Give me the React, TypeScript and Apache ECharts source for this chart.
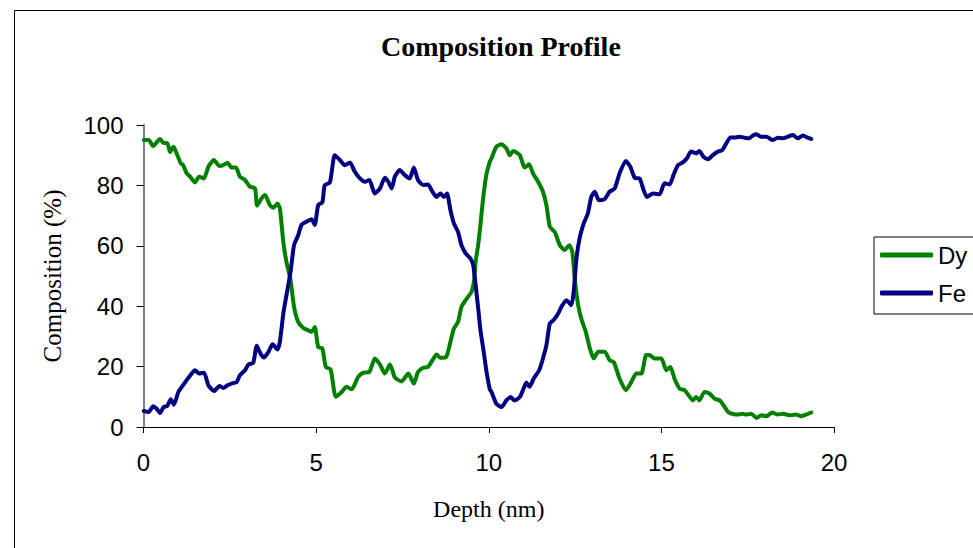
import React, { useEffect, useRef } from "react";
import * as echarts from "echarts";

const titleText = "Composition Profile";
const xTicks = [0, 5, 10, 15, 20];
const yTicks = [0, 20, 40, 60, 80, 100];

const dyDepth = [
  0.01, 0.15, 0.28, 0.48, 0.58, 0.69, 0.77, 0.87, 0.96, 1.08, 1.15, 1.25, 1.35, 1.49, 1.61, 1.75, 1.88, 2.04, 2.2, 2.31,
  2.43, 2.55, 2.68, 2.79, 2.94, 3.08, 3.23, 3.29, 3.42, 3.52, 3.66, 3.76, 3.88, 3.95, 4.05, 4.14, 4.26, 4.36, 4.48, 4.63,
  4.77, 4.87, 4.96, 5.06, 5.18, 5.28, 5.42, 5.57, 5.74, 5.88, 6.03, 6.22, 6.37, 6.54, 6.7, 6.85, 6.99, 7.14, 7.28, 7.47,
  7.67, 7.83, 7.95, 8.1, 8.24, 8.37, 8.49, 8.6, 8.77, 8.89, 8.99, 9.11, 9.21, 9.33, 9.5, 9.57, 9.62, 9.69, 9.76, 9.84,
  9.93, 10.03, 10.08, 10.22, 10.37, 10.51, 10.61, 10.71, 10.9, 11.04, 11.17, 11.28, 11.43, 11.57, 11.67, 11.77, 11.91, 12.06, 12.2, 12.33,
  12.42, 12.49, 12.59, 12.68, 12.81, 12.93, 13.04, 13.17, 13.36, 13.5, 13.62, 13.79, 13.97, 14.13, 14.27, 14.42, 14.56, 14.66, 14.8, 15.0,
  15.14, 15.26, 15.38, 15.53, 15.67, 15.82, 15.91, 16.01, 16.1, 16.25, 16.4, 16.54, 16.69, 16.8, 16.93, 17.07, 17.22, 17.34, 17.46, 17.6,
  17.76, 17.89, 18.04, 18.21, 18.37, 18.52, 18.71, 18.9, 19.05, 19.19, 19.34,
];
const dyComp = [
  95, 95, 93, 95.4, 94, 94, 91, 92.8, 90.6, 87.3, 86.7, 84, 82.9, 81, 82.9, 82.3, 86.2, 88.4, 86.4, 86.7,
  87.5, 85.9, 85.9, 82.9, 81.8, 79.6, 79, 73.3, 75.7, 76.8, 73.5, 72.6, 74, 72.4, 61.3, 54.7, 48.6, 39.8, 34.8, 32.8,
  32, 31.5, 33.1, 26.5, 26, 19.9, 19.1, 10, 11.6, 13.3, 12.5, 16.6, 18, 18.2, 22.7, 20.7, 17.7, 20.7, 16.4, 15.1,
  17.7, 14.4, 18.2, 19.6, 19.9, 22.1, 24, 22.9, 23.2, 28.2, 32.6, 34.8, 39.8, 42, 44.8, 48.1, 54.7, 60, 67, 76,
  83.5, 87.8, 89, 92.8, 93.6, 92.3, 90, 91.4, 90, 85.9, 87, 84, 81.2, 77.9, 73.5, 66.3, 64.6, 60.2, 58.6, 60.2,
  58, 49.2, 40.3, 35.9, 31.5, 26, 22.7, 24.9, 24.9, 22.1, 21.5, 16, 12.2, 14.9, 17.7, 17.7, 23.8, 23.8, 22.7, 22.7,
  18.8, 19.9, 16, 12.7, 12.2, 10, 8.8, 9.9, 8.8, 11.6, 11, 9.4, 8.8, 7.2, 5, 4.3, 4.1, 4.4, 4.1, 4.4,
  3, 3.9, 3.6, 4.8, 4.1, 4.4, 3.9, 4.1, 3.6, 4.1, 4.8,
];

const feDepth = [
  0.01, 0.15, 0.28, 0.38, 0.48, 0.58, 0.69, 0.79, 0.88, 1.01, 1.13, 1.25, 1.37, 1.49, 1.61, 1.75, 1.88, 2.04, 2.2, 2.31,
  2.43, 2.55, 2.7, 2.79, 2.94, 3.04, 3.18, 3.28, 3.39, 3.49, 3.62, 3.74, 3.88, 3.95, 4.05, 4.14, 4.26, 4.36, 4.48, 4.58,
  4.72, 4.87, 4.96, 5.06, 5.18, 5.25, 5.4, 5.54, 5.69, 5.83, 5.98, 6.12, 6.27, 6.41, 6.54, 6.7, 6.85, 6.99, 7.09, 7.19,
  7.28, 7.42, 7.57, 7.71, 7.83, 7.95, 8.1, 8.24, 8.37, 8.49, 8.6, 8.7, 8.79, 8.89, 8.99, 9.11, 9.21, 9.33, 9.47, 9.55,
  9.62, 9.69, 9.76, 9.84, 9.93, 10.03, 10.08, 10.22, 10.37, 10.51, 10.63, 10.75, 10.9, 10.99, 11.09, 11.18, 11.3, 11.46, 11.57, 11.67,
  11.77, 11.88, 12.01, 12.13, 12.25, 12.39, 12.46, 12.54, 12.63, 12.75, 12.87, 12.97, 13.07, 13.19, 13.36, 13.5, 13.65, 13.79, 13.97, 14.1,
  14.23, 14.37, 14.47, 14.58, 14.76, 14.95, 15.09, 15.24, 15.35, 15.48, 15.62, 15.74, 15.86, 16.01, 16.1, 16.22, 16.35, 16.49, 16.64, 16.76,
  16.88, 17.0, 17.15, 17.28, 17.41, 17.55, 17.65, 17.76, 17.89, 18.04, 18.23, 18.37, 18.52, 18.66, 18.81, 18.95, 19.1, 19.24, 19.34,
];
const feComp = [
  5.3, 5, 6.9, 6.1, 4.6, 6.6, 7, 9.2, 7.4, 11.6, 13.6, 15.5, 17.3, 18.8, 17.7, 18, 13.8, 11.9, 13.6, 12.9,
  13.8, 14.4, 14.9, 17.1, 18.8, 20.7, 21.3, 26.9, 24.3, 23, 24.9, 27.4, 25.7, 28.2, 37.6, 43.6, 51.4, 60.2, 63.5, 67,
  68, 68.8, 66.9, 73.5, 74.4, 80.1, 81, 90, 88.4, 86.7, 87.6, 84.5, 82.3, 81.2, 81.8, 77.3, 79, 82.5, 81.2, 79,
  82.9, 85.1, 83.4, 82.3, 85.9, 81.8, 80.1, 80.3, 77.9, 76.2, 77.3, 76.2, 77.3, 71.8, 67.4, 64.6, 60.2, 57.5, 55.8, 53.6,
  47, 39.8, 32, 26, 18.7, 12.5, 11.6, 7.7, 6.6, 8.8, 9.9, 8.8, 9.9, 12.2, 14.7, 13.3, 16, 18.8, 22.7, 27.1,
  34.3, 35.4, 37.6, 40.3, 42, 40.3, 44.8, 55.8, 62.4, 67.4, 70.7, 76.2, 77.9, 75.1, 75.5, 77.9, 79, 84, 88.1, 86.2,
  82.5, 82.3, 79, 76.2, 77.3, 77.1, 80.7, 80.3, 83.4, 86.7, 87.6, 89, 91.2, 90.6, 91.4, 89.5, 88.7, 90, 91.2, 91.7,
  93.9, 95.9, 95.9, 96.1, 95.8, 95.6, 96.5, 96.9, 96.1, 96.1, 95, 95.8, 95.6, 96.1, 96.7, 95.6, 96.5, 95.8, 95.4,
];

const pairs = (xs: number[], ys: number[]) => xs.map((x, i) => [x, ys[i]]);

export default function App() {
  const ref = useRef<HTMLDivElement>(null);
  useEffect(() => {
    if (!ref.current) return;
    const chart = echarts.init(ref.current, null, { renderer: "svg" });
    const serif = "'Liberation Serif', 'Times New Roman', serif";
    const sans = "'Liberation Sans', Arial, sans-serif";
    chart.setOption({
      animation: false,
      backgroundColor: "#ffffff",
      title: {
        text: titleText,
        left: 376,
        top: 27,
        textStyle: { fontFamily: serif, fontWeight: "bold", fontSize: 28, color: "#000" },
      },
      graphic: [
        {
          type: "rect",
          shape: { x: 14.5, y: 10.5, width: 1000, height: 600 },
          style: { fill: "none", stroke: "#000", lineWidth: 1 },
          silent: true,
        },
      ],
      grid: { left: 143.5, right: 139, top: 125, bottom: 121, containLabel: false },
      legend: {
        orient: "vertical",
        left: 874,
        top: 237,
        padding: [6, 60, 9, 6],
        itemGap: 14,
        itemWidth: 53,
        itemHeight: 5,
        icon: "roundRect",
        borderColor: "#000",
        borderWidth: 1,
        textStyle: { fontFamily: sans, fontSize: 24, color: "#000", lineHeight: 24 },
        data: ["Dy", "Fe"],
      },
      xAxis: {
        type: "value",
        min: 0,
        max: 20,
        interval: 5,
        name: "Depth (nm)",
        nameLocation: "middle",
        nameGap: 70,
        nameTextStyle: { fontFamily: serif, fontSize: 24, color: "#000" },
        axisLine: { lineStyle: { color: "#000", width: 1 } },
        axisTick: { show: true, inside: false, length: 6, lineStyle: { color: "#000" } },
        axisLabel: {
          fontFamily: sans,
          fontSize: 24,
          color: "#000",
          margin: 23,
          formatter: (v: number) => (xTicks.includes(v) ? String(v) : ""),
        },
        splitLine: { show: false },
      },
      yAxis: {
        type: "value",
        min: 0,
        max: 100,
        interval: 20,
        name: "Composition (%)",
        nameLocation: "middle",
        nameGap: 79,
        nameTextStyle: { fontFamily: serif, fontSize: 25, color: "#000" },
        axisLine: { show: true, lineStyle: { color: "#808080", width: 2 } },
        axisTick: { show: true, inside: false, length: 7, lineStyle: { color: "#000" } },
        axisLabel: {
          fontFamily: sans,
          fontSize: 24,
          color: "#000",
          margin: 20,
          formatter: (v: number) => (yTicks.includes(v) ? String(v) : ""),
        },
        splitLine: { show: false },
      },
      series: [
        {
          name: "Dy",
          type: "line",
          data: pairs(dyDepth, dyComp),
          symbol: "none",
          smooth: 0.2,
          itemStyle: { color: "#008000" },
          lineStyle: { color: "#008000", width: 4, cap: "round", join: "round" },
        },
        {
          name: "Fe",
          type: "line",
          data: pairs(feDepth, feComp),
          symbol: "none",
          smooth: 0.2,
          itemStyle: { color: "#000080" },
          lineStyle: { color: "#000080", width: 4, cap: "round", join: "round" },
        },
      ],
    });
    return () => chart.dispose();
  }, []);
  return (
    <div
      ref={ref}
      style={{ position: "fixed", left: 0, top: 0, width: 973, height: 548, background: "#fff" }}
    />
  );
}
